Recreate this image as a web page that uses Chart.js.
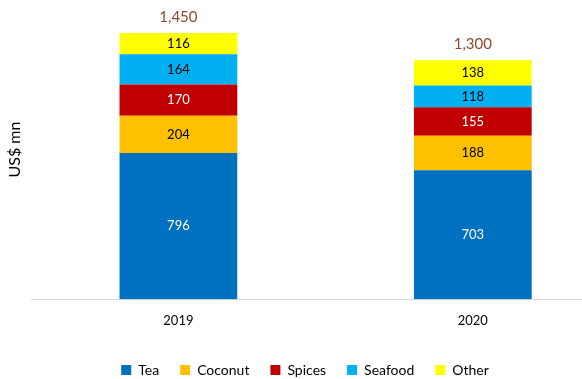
<!DOCTYPE html>
<html>
<head>
<meta charset="utf-8">
<script src="https://cdn.jsdelivr.net/npm/chart.js@4"></script>
<style>
  html, body { margin: 0; padding: 0; overflow: hidden; background: #fff; }
  #wrap { width: 620px; height: 379px; }
</style>
</head>
<body>
<div id="wrap"><canvas id="exportChart"></canvas></div>
<script>
const years = ["2019", "2020"];
const tea = [796, 703];
const coconut = [204, 188];
const spices = [170, 155];
const seafood = [164, 118];
const other = [116, 138];
const totals = [1450, 1300];

const fontFamily = "Lato, 'Open Sans', sans-serif";

// nhãn giá trị trong cột + tổng trên đỉnh
const valueLabels = {
  id: "valueLabels",
  afterDatasetsDraw(chart) {
    const ctx = chart.ctx;
    ctx.save();
    ctx.font = "13px " + fontFamily;
    ctx.textAlign = "center";
    ctx.textBaseline = "middle";
    chart.data.datasets.forEach((ds, i) => {
      const meta = chart.getDatasetMeta(i);
      meta.data.forEach((bar, j) => {
        ctx.fillStyle = ds.labelColor;
        ctx.fillText(ds.data[j], bar.x, (bar.y + bar.base) / 2);
      });
    });
    const top = chart.getDatasetMeta(chart.data.datasets.length - 1);
    ctx.fillStyle = "#8B4A2B";
    ctx.font = "15px " + fontFamily;
    top.data.forEach((bar, j) => {
      ctx.fillText(totals[j].toLocaleString("en-US"), bar.x, bar.y - 16);
    });
    ctx.restore();
  },
};

// dời legend sang trái một chút cho giống hình gốc
const legendShift = {
  id: "legendShift",
  afterLayout(chart) {
    if (chart.legend) {
      chart.legend.left -= 7;
      chart.legend.right -= 7;
    }
  },
};

const ctx = document.getElementById("exportChart").getContext("2d");
const myChart = new Chart(ctx, {
  type: "bar",
  data: {
    labels: years,
    datasets: [
      { label: "Tea", data: tea, backgroundColor: "#0070C0", labelColor: "#ffffff" },
      { label: "Coconut", data: coconut, backgroundColor: "#FFC000", labelColor: "#000000" },
      { label: "Spices", data: spices, backgroundColor: "#C00000", labelColor: "#ffffff" },
      { label: "Seafood", data: seafood, backgroundColor: "#00B0F0", labelColor: "#000000" },
      { label: "Other", data: other, backgroundColor: "#FFFF00", labelColor: "#000000" },
    ],
  },
  options: {
    responsive: true,
    maintainAspectRatio: false,
    animation: false,
    barPercentage: 0.4,
    categoryPercentage: 1,
    layout: { padding: { left: 4, right: 0, top: 0, bottom: -8 } },
    plugins: {
      legend: {
        position: "bottom",
        labels: {
          boxWidth: 10,
          boxHeight: 10,
          padding: 21,
          color: "#000",
          font: { family: fontFamily, size: 14 },
        },
      },
      tooltip: { enabled: false },
    },
    scales: {
      x: {
        stacked: true,
        grid: { display: false, drawTicks: false },
        border: { display: true, color: "#d9d9d9", width: 1 },
        ticks: {
          color: "#000",
          padding: 19,
          font: { family: fontFamily, size: 13, lineHeight: 0.37 },
        },
      },
      y: {
        stacked: true,
        min: 0,
        max: 1630,
        grid: { display: false, drawTicks: false },
        border: { display: false },
        ticks: { display: false },
        title: {
          display: true,
          text: "US$ mn",
          color: "#000",
          padding: { top: 1, bottom: 7 },
          font: { family: fontFamily, size: 16 },
        },
      },
    },
  },
  plugins: [valueLabels, legendShift],
});
</script>
</body>
</html>
